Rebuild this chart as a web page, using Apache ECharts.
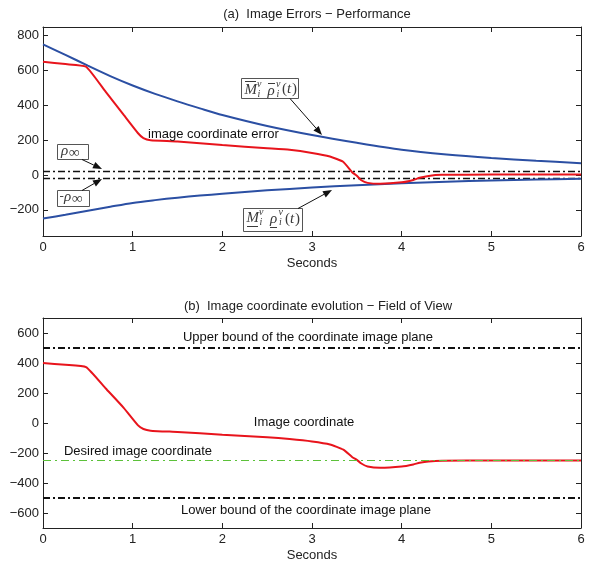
<!DOCTYPE html>
<html><head><meta charset="utf-8">
<script src="https://cdn.jsdelivr.net/npm/echarts@6/dist/echarts.min.js"></script>
<style>html,body{margin:0;padding:0;background:#fff}#c{width:590px;height:561px}</style>
</head><body><div id="c"></div>
<script>
// ---------- data ----------
const xTicks = [0, 1, 2, 3, 4, 5, 6];
const yTicksTop = [-200, 0, 200, 400, 600, 800];
const yTicksBottom = [-600, -400, -200, 0, 200, 400, 600];

const blueT = [0,0.25,0.5,0.75,1,1.25,1.5,1.75,2,2.5,3,3.5,4,4.5,5,5.5,6];
const blueUpper = [750,690,628,568,514,466,423,383,345,282,230,185,145,118,98,82,68];
const blueLower = [-250,-228,-205,-182,-160,-144,-130,-118,-108,-88,-72,-58,-47,-38,-31,-26,-22];

const redT = [0,0.25,0.48,0.7,0.9,1.06,1.12,1.2,1.5,2,2.5,2.75,3,3.2,3.35,3.45,3.5,3.55,3.62,3.76,4,4.13,4.2,4.3,4.45,5,6];
const redError = [650,637,622,477,345,240,212,200,193,172,154,145,127,106,75,15,-4,-30,-45,-50,-42,-28,-16,-5,1,3,3];
const redCoord = [400,388,373,230,101,-16,-40,-51,-60,-78,-95,-107,-123,-143,-178,-228,-246,-270,-290,-299,-290,-276,-265,-256,-251,-250,-250];

const rhoInf = 20;
const upperBound = 500;
const lowerBound = -500;
const desired = -250;
const tRange = [0, 6];

// ---------- chart ----------
const FONT = 'Liberation Sans, Arial, sans-serif';
const SERIF = 'Liberation Serif, DejaVu Serif, serif';
const zip = (t, v) => t.map((x, i) => [x, v[i]]);
const hline = v => [[tRange[0], v], [tRange[1], v]];

function xAx(gi, pos, labels) {
  return {
    type: 'value', gridIndex: gi, position: pos, min: 0, max: 6, interval: 1,
    name: labels ? 'Seconds' : '', nameLocation: 'middle', nameGap: 21,
    nameTextStyle: { fontFamily: FONT, fontSize: 13, color: '#222' },
    axisLine: { show: true, onZero: false, lineStyle: { color: '#222', width: 1 } },
    axisTick: { show: true, inside: true, length: 5, lineStyle: { color: '#222' } },
    axisLabel: { show: labels, fontFamily: FONT, fontSize: 13, color: '#222', margin: 5 },
    splitLine: { show: false }
  };
}
function yAx(gi, pos, labels, min, max, ticks) {
  return {
    type: 'value', gridIndex: gi, position: pos, min: min, max: max,
    axisLine: { show: true, onZero: false, lineStyle: { color: '#222', width: 1 } },
    axisTick: { show: true, inside: true, length: 5, customValues: ticks, lineStyle: { color: '#222' } },
    axisLabel: { show: labels, customValues: ticks, fontFamily: FONT, fontSize: 13, color: '#222', margin: 4,
      formatter: v => (v < 0 ? '\u2212' + Math.abs(v) : '' + v) },
    splitLine: { show: false }
  };
}
function line(data, xi, yi, color, width, type) {
  return {
    type: 'line', data: data, xAxisIndex: xi, yAxisIndex: yi, showSymbol: false, symbol: 'none',
    lineStyle: { color: color, width: width, type: type || 'solid' }, silent: true, clip: true
  };
}

// annotation helpers (pixel layout)
function arrow(x1, y1, x2, y2) {
  const dx = x2 - x1, dy = y2 - y1, L = Math.hypot(dx, dy), ux = dx / L, uy = dy / L;
  const hl = 9, hw = 3.5, bx = x2 - ux * hl, by = y2 - uy * hl;
  return [
    { type: 'line', shape: { x1, y1, x2: bx, y2: by }, style: { stroke: '#111', lineWidth: 1 }, z: 100 },
    { type: 'polygon', shape: { points: [[x2, y2], [bx - uy * hw, by + ux * hw], [bx + uy * hw, by - ux * hw]] }, style: { fill: '#111' }, z: 100 }
  ];
}
function rect(x, y, w, h) {
  return { type: 'rect', shape: { x, y, width: w, height: h }, style: { fill: '#fff', stroke: '#555', lineWidth: 1 }, z: 100 };
}
function txt(x, y, s, size, italic, family, align) {
  return { type: 'text', x, y, z: 101, style: { text: s, fill: '#3a3a3a', font: (italic ? 'italic ' : '') + size + 'px ' + (family || SERIF), textAlign: align || 'left', textVerticalAlign: 'middle' } };
}
function seg(x1, y1, x2, y2) {
  return { type: 'line', shape: { x1, y1, x2, y2 }, style: { stroke: '#3a3a3a', lineWidth: 1 }, z: 101 };
}
function plain(x, y, s, align) {
  return { type: 'text', x, y, z: 50, style: { text: s, fill: '#111', font: '13px ' + FONT, textAlign: align || 'center', textVerticalAlign: 'middle' } };
}

const graphics = [].concat(
  // upper bound box
  rect(241.5, 78.5, 57, 20),
  seg(245, 81.5, 256, 81.5), txt(244.5, 90, 'M', 15, true),
  txt(257, 84, 'v', 10, true), txt(257.5, 94, 'i', 10, true),
  seg(268, 83.5, 275, 83.5), txt(267.5, 91, '\u03C1', 15, true),
  txt(276, 84, 'v', 10, true), txt(276.5, 94, 'i', 10, true),
  txt(282, 89, '(', 15, false), txt(287, 89, 't', 15, true), txt(292, 89, ')', 15, false),
  arrow(290, 98.5, 322, 135),
  // lower bound box
  rect(243.5, 208.5, 59, 23),
  txt(246.5, 218, 'M', 15, true), seg(247, 226.5, 258, 226.5),
  txt(259, 212, 'v', 10, true), txt(259.5, 222, 'i', 10, true),
  txt(270, 219, '\u03C1', 15, true), seg(270, 227.5, 277, 227.5),
  txt(278.5, 212, 'v', 10, true), txt(279, 222, 'i', 10, true),
  txt(285, 219, '(', 15, false), txt(290, 219, 't', 15, true), txt(295, 219, ')', 15, false),
  arrow(298, 208.5, 332, 190),
  // rho_inf boxes
  rect(57.5, 144.5, 31, 15),
  txt(61, 151, '\u03C1', 15, true), txt(69, 153, '\u221E', 15, false),
  arrow(82, 159.5, 102, 169),
  rect(57.5, 190.5, 32, 16),
  txt(59.5, 197, '-', 13, false), txt(64, 197, '\u03C1', 15, true), txt(72, 199, '\u221E', 15, false),
  arrow(82, 190.5, 102, 179),
  // text annotations
  plain(148, 134, 'image coordinate error', 'left'),
  plain(308, 337, 'Upper bound of the coordinate image plane'),
  plain(304, 422, 'Image coordinate'),
  plain(138, 451, 'Desired image coordinate'),
  plain(306, 510, 'Lower bound of the coordinate image plane')
);

const dashDot = [7, 3, 2, 3];
const option = {
  animation: false,
  backgroundColor: '#fff',
  title: [
    { text: '(a)  Image Errors \u2212 Performance', left: 312, top: 3, textAlign: 'center',
      textStyle: { fontFamily: FONT, fontSize: 13, fontWeight: 'normal', color: '#222' } },
    { text: '(b)  Image coordinate evolution \u2212 Field of View', left: 313, top: 295, textAlign: 'center',
      textStyle: { fontFamily: FONT, fontSize: 13, fontWeight: 'normal', color: '#222' } }
  ],
  grid: [
    { left: 43, top: 27, width: 538, height: 209, containLabel: false, outerBoundsMode: 'none' },
    { left: 43, top: 318, width: 538, height: 210, containLabel: false, outerBoundsMode: 'none' }
  ],
  xAxis: [xAx(0, 'bottom', true), xAx(0, 'top', false), xAx(1, 'bottom', true), xAx(1, 'top', false)],
  yAxis: [
    yAx(0, 'left', true, -350, 850, yTicksTop), yAx(0, 'right', false, -350, 850, yTicksTop),
    yAx(1, 'left', true, -700, 700, yTicksBottom), yAx(1, 'right', false, -700, 700, yTicksBottom)
  ],
  series: [
    line(hline(rhoInf), 0, 0, '#111', 1.5, dashDot),
    line(hline(-rhoInf), 0, 0, '#111', 1.5, dashDot),
    Object.assign(line(zip(blueT, blueUpper), 0, 0, '#2b4fa3', 2), { smooth: 0.3 }),
    Object.assign(line(zip(blueT, blueLower), 0, 0, '#2b4fa3', 2), { smooth: 0.3 }),
    Object.assign(line(zip(redT, redError), 0, 0, '#e8141c', 2), { smooth: 0.15 }),
    line(hline(upperBound), 2, 2, '#111', 2, dashDot),
    line(hline(lowerBound), 2, 2, '#111', 2, dashDot),
    Object.assign(line(zip(redT, redCoord), 2, 2, '#e8141c', 2), { smooth: 0.15 }),
    line(hline(desired), 2, 2, '#5cc13a', 1.2, [8, 4, 2, 4])
  ],
  graphic: graphics
};
const chart = echarts.init(document.getElementById('c'), null, { renderer: 'canvas' });
chart.setOption(option);
</script></body></html>
